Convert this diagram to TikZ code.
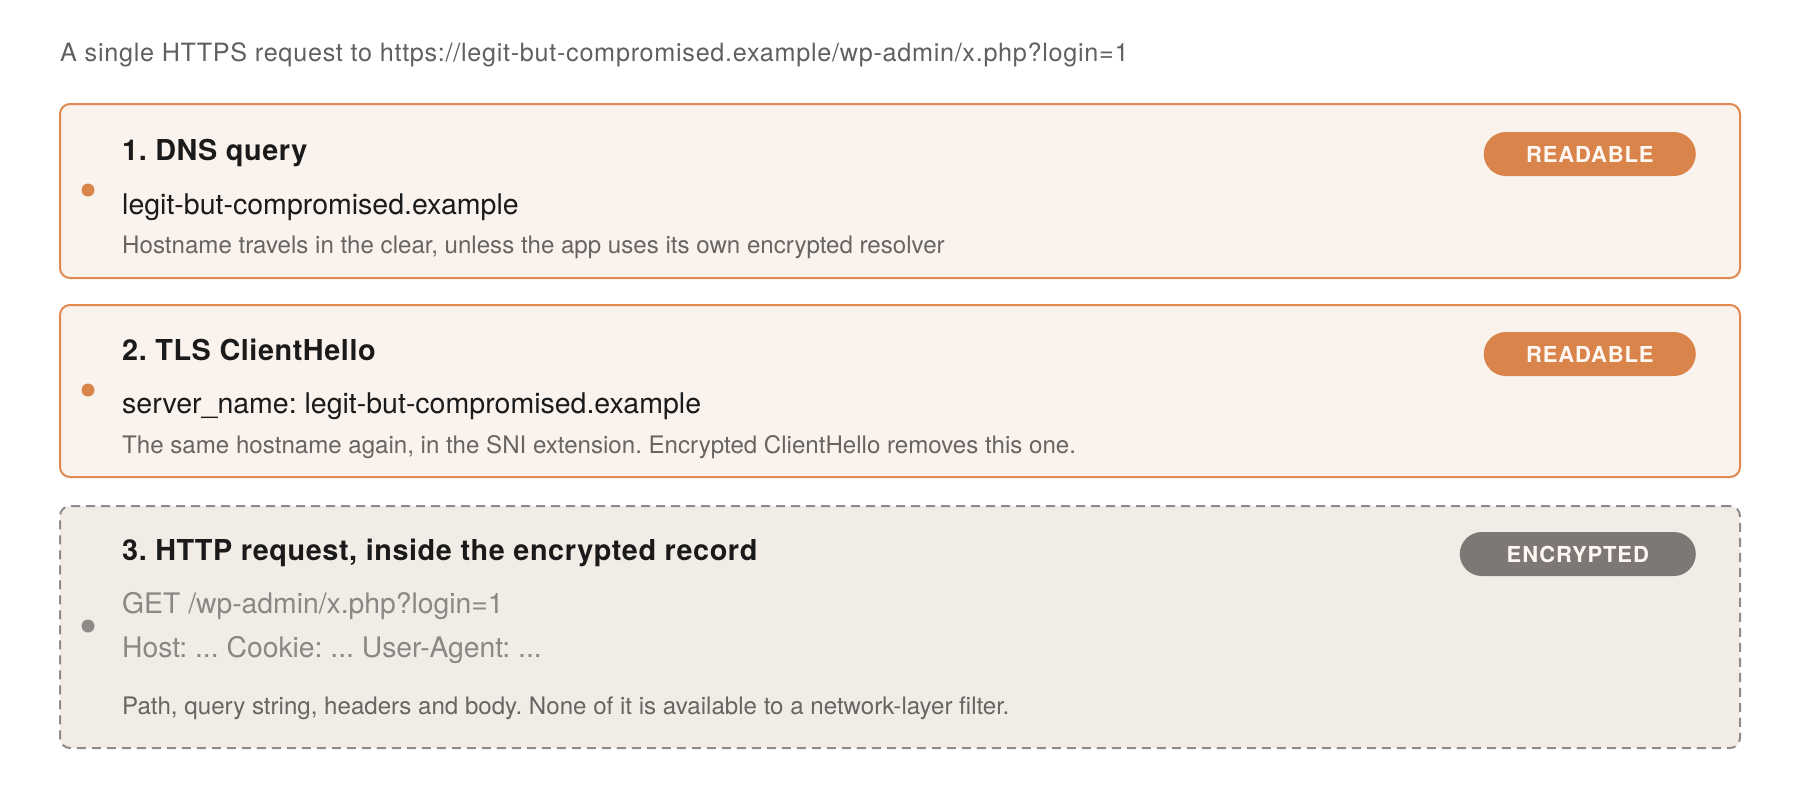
\documentclass[tikz,border=0pt]{standalone}
\usepackage{fontspec}
\setmainfont{TeX Gyre Heros}
\newfontfamily\titlefont[LetterSpace=2.8]{TeX Gyre Heros}
\newfontfamily\headfont[LetterSpace=2]{TeX Gyre Heros}
\newfontfamily\badgefont[LetterSpace=4]{TeX Gyre Heros}
\frenchspacing
\definecolor{orangeB}{HTML}{E08A52}
\definecolor{orangeF}{HTML}{D9844A}
\definecolor{peach}{HTML}{FAF2ED}
\definecolor{sand}{HTML}{F2ECE6}
\definecolor{grayB}{HTML}{8F8B88}
\definecolor{grayF}{HTML}{7D7875}
\definecolor{ink}{HTML}{1A1A1A}
\definecolor{descgray}{HTML}{676462}
\definecolor{titlegray}{HTML}{606060}
\definecolor{codegray}{HTML}{8A8784}
\definecolor{badgetext}{HTML}{FFF8F2}
\tikzset{
  cardA/.style={draw=orangeB, fill=peach, line width=2pt, rounded corners=10pt,
    inner sep=0pt, minimum width=1680pt, anchor=north west},
  cardC/.style={draw=grayB, fill=sand, line width=2pt, dash pattern=on 9pt off 6pt,
    rounded corners=10pt, inner sep=0pt, minimum width=1680pt, anchor=north west},
  badge/.style={rounded corners=22pt, minimum height=44pt, inner sep=0pt,
    anchor=east, text=badgetext, font=\badgefont\bfseries\fontsize{22}{26}\selectfont},
  readable/.style={badge, fill=orangeF, minimum width=212pt},
  encrypted/.style={badge, fill=grayF, minimum width=236pt},
  dotA/.style={circle, fill=orangeF, minimum size=13pt, inner sep=0pt},
  dotC/.style={circle, fill=grayB, minimum size=13pt, inner sep=0pt},
  txt/.style={anchor=base west, inner sep=0pt},
  ttl/.style={txt, text=titlegray, font=\titlefont\fontsize{25.2}{30}\selectfont},
  head/.style={txt, text=ink, font=\headfont\bfseries\fontsize{28.8}{34}\selectfont},
  val/.style={txt, text=ink, font=\fontsize{28.5}{34}\selectfont},
  code/.style={txt, text=codegray, font=\fontsize{28.3}{34}\selectfont},
  desc/.style={txt, text=descgray, font=\fontsize{24.1}{29}\selectfont},
}
\begin{document}
\begin{tikzpicture}[x=1pt,y=-1pt]
\useasboundingbox[fill=white] (0,0) rectangle (1800,788);
\node[ttl] (title) at (60,61) {A single HTTPS request to https://legit-but-compromised.example/wp-admin/x.php?login=1};

% Box 1
\node[cardA, minimum height=174pt] (box1) at (59,103) {};
\node[head] (h1) at (122,160) {1. DNS query};
\node[val] (v1) at (122,214) {legit-but-compromised.example};
\node[desc] (d1) at (122,253) {Hostname travels in the clear, unless the app uses its own encrypted resolver};
\node[dotA] (dot1) at (88,190) {};
\node[readable] (b1) at (1696,154) {READABLE};

% Box 2
\node[cardA, minimum height=172pt] (box2) at (59,304) {};
\node[head] (h2) at (122,360) {2. TLS ClientHello};
\node[val] (v2) at (122,413) {server\_name: legit-but-compromised.example};
\node[desc] (d2) at (122,453) {The same hostname again, in the SNI extension. Encrypted ClientHello removes this one.};
\node[dotA] (dot2) at (88,390) {};
\node[readable] (b2) at (1696,354) {READABLE};

% Box 3
\node[cardC, minimum height=242pt] (box3) at (59,505) {};
\node[head] (h3) at (122,560) {3. HTTP request, inside the encrypted record};
\node[code] (c3a) at (122,613) {GET /wp-admin/x.php?login=1};
\node[code] (c3b) at (122,657) {Host: ... Cookie: ... User-Agent: ...};
\node[desc] (d3) at (122,714) {Path, query string, headers and body. None of it is available to a network-layer filter.};
\node[dotC] (dot3) at (88,626) {};
\node[encrypted] (b3) at (1696,554) {ENCRYPTED};
\end{tikzpicture}
\end{document}
